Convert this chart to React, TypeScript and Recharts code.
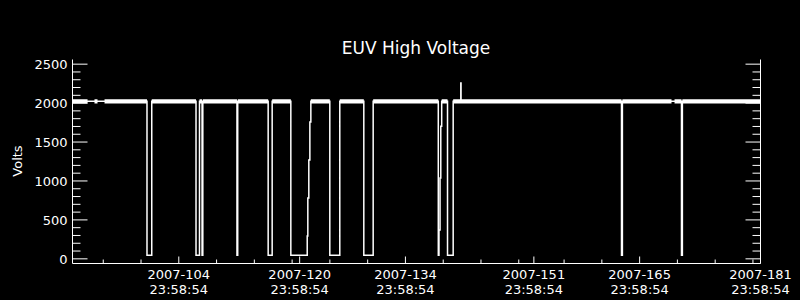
import React from 'react';
import { LineChart, Line, XAxis, YAxis } from 'recharts';

// day-of-year 2007 vs volts
const voltsPoints: [number, number][] = [
  [89.93, 2023],
  [99.79, 2023], [99.79, 45], [100.42, 45], [100.42, 2023],
  [106.28, 2023], [106.28, 45], [106.74, 45], [106.74, 2023],
  [107.08, 2023], [107.08, 45], [107.18, 45], [107.18, 2023],
  [111.7, 2023], [111.7, 45], [111.8, 45], [111.8, 2023],
  [115.83, 2023], [115.83, 45], [116.36, 45], [116.36, 2023],
  [118.83, 2023], [118.83, 45], [121.0, 45], [121.0, 293], [121.08, 293], [121.08, 780],
  [121.21, 780], [121.21, 1268], [121.35, 1268], [121.35, 1756], [121.48, 1756], [121.48, 2023],
  [123.99, 2023], [123.99, 45], [125.31, 45], [125.31, 2023],
  [128.49, 2023], [128.49, 45], [129.73, 45], [129.73, 2023],
  [138.35, 2023], [138.35, 45], [138.44, 45], [138.44, 370], [138.58, 370], [138.58, 1037],
  [138.68, 1037], [138.68, 1704], [138.8, 1704], [138.8, 2023],
  [139.57, 2023], [139.57, 45], [140.32, 45], [140.32, 2023],
  [141.33, 2023], [141.33, 2258], [141.36, 2258], [141.36, 2023],
  [162.6, 2023], [162.6, 45], [162.72, 45], [162.72, 2023],
  [170.54, 2023], [170.54, 45], [170.66, 45], [170.66, 2023],
  [181, 2023],
];

// stretches where the noisy ~2000-2050 V band is drawn thick
const bandLevel = 2023;
const bandRuns: [number, number][] = [
  [89.93, 91.92], [92.84, 93.24], [94.17, 99.79], [100.42, 106.28], [106.74, 107.08],
  [107.18, 111.7], [111.8, 115.83], [116.36, 118.83], [121.48, 123.99], [125.31, 128.49],
  [129.73, 138.35], [138.8, 139.57], [140.32, 162.6], [162.72, 169.22], [169.62, 170.54],
  [170.66, 181],
];

const xMajor = [104, 120, 134, 151, 165, 181];
const xMinor = [94, 99, 109, 114, 119, 124, 129, 139, 144, 149, 155, 160, 170, 175, 180];
const yMajor = [0, 500, 1000, 1500, 2000, 2500];
const yMinor = [100, 200, 300, 400, 600, 700, 800, 900, 1100, 1200, 1300, 1400,
  1600, 1700, 1800, 1900, 2100, 2200, 2300, 2400];

const FONT = '"DejaVu Sans", sans-serif';

const mainData = voltsPoints.map(([day, v]) => ({ day, v }));
const bandData = bandRuns.flatMap(([a, b]) => [
  { day: a, v: bandLevel },
  { day: b, v: bandLevel },
  { day: b, v: null },
]);

const xTicks = [...xMajor, ...xMinor].sort((a, b) => a - b);
const yTicks = [...yMajor, ...yMinor].sort((a, b) => a - b);

const XTick = (props: any) => {
  const { x, y, payload, side } = props;
  const major = xMajor.includes(payload.value);
  const len = major ? 7 : 4;
  const dir = side === 'top' ? 1 : -1;
  return (
    <g>
      <line x1={x} x2={x} y1={y} y2={y + dir * len} stroke="#fff" strokeWidth={1} />
      {major && side !== 'top' && (
        <text fill="#fff" fontFamily={FONT} fontSize={13} textAnchor="middle">
          <tspan x={x} y={y + 15}>{`2007-${payload.value}`}</tspan>
          <tspan x={x} y={y + 30}>23:58:54</tspan>
        </text>
      )}
    </g>
  );
};

const YTick = (props: any) => {
  const { x, y, payload, side } = props;
  const major = yMajor.includes(payload.value);
  const len = major ? 15 : 8;
  const dir = side === 'right' ? -1 : 1;
  return (
    <g>
      <line x1={x} x2={x + dir * len} y1={y} y2={y} stroke="#fff" strokeWidth={1} />
      {major && side !== 'right' && (
        <text x={x - 5} y={y + 5} fill="#fff" fontFamily={FONT} fontSize={13} textAnchor="end">
          {payload.value}
        </text>
      )}
    </g>
  );
};

export default function App() {
  const axisLine = { stroke: '#fff', strokeWidth: 1 };
  return (
    <div style={{ position: 'absolute', left: 0, top: 0, width: 800, height: 300, background: '#000' }}>
      <LineChart width={800} height={300} margin={{ top: 59.5, right: 0, bottom: 0, left: 0 }}>
        <XAxis xAxisId="b" type="number" dataKey="day" domain={[89.93, 181]} ticks={xTicks}
          interval={0} height={36.5} tickSize={0} tickMargin={0} tickLine={false}
          axisLine={axisLine} allowDataOverflow
          tick={(p: any) => <XTick {...p} side="bottom" />} />
        <XAxis xAxisId="t" orientation="top" type="number" dataKey="day" domain={[89.93, 181]}
          ticks={xTicks} interval={0} height={0} tickSize={0} tickMargin={0} tickLine={false}
          axisLine={axisLine} allowDataOverflow
          tick={(p: any) => <XTick {...p} side="top" />} />
        <YAxis yAxisId="l" type="number" domain={[-60, 2560]} ticks={yTicks} interval={0}
          width={72.5} tickSize={0} tickMargin={0} tickLine={false} axisLine={axisLine}
          allowDataOverflow tick={(p: any) => <YTick {...p} side="left" />} />
        <YAxis yAxisId="r" orientation="right" type="number" domain={[-60, 2560]} ticks={yTicks}
          interval={0} width={39.5} tickSize={0} tickMargin={0} tickLine={false}
          axisLine={axisLine} allowDataOverflow
          tick={(p: any) => <YTick {...p} side="right" />} />
        <Line xAxisId="b" yAxisId="l" data={bandData} dataKey="v" stroke="#fff" strokeWidth={4.3}
          strokeLinecap="butt" dot={false} connectNulls={false} isAnimationActive={false} />
        <Line xAxisId="b" yAxisId="l" data={mainData} dataKey="v" stroke="#fff" strokeWidth={1.5}
          dot={false} isAnimationActive={false} />
      </LineChart>
      <svg width={800} height={300} style={{ position: 'absolute', left: 0, top: 0, pointerEvents: 'none' }}>
        <text x={416} y={54} fill="#fff" fontFamily={FONT} fontSize={17} textAnchor="middle">
          EUV High Voltage
        </text>
        <text x={22} y={161} fill="#fff" fontFamily={FONT} fontSize={13} textAnchor="middle"
          transform="rotate(-90 22 161)">
          Volts
        </text>
      </svg>
    </div>
  );
}
